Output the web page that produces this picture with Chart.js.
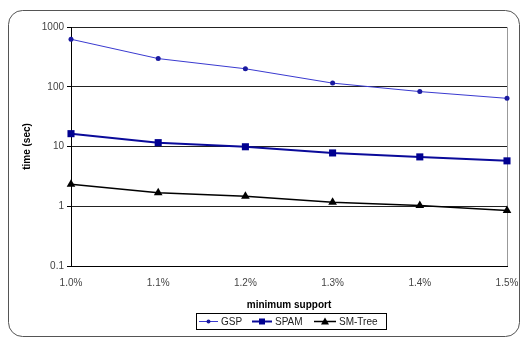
<!DOCTYPE html>
<html><head><meta charset="utf-8">
<script src="https://cdn.jsdelivr.net/npm/chart.js@4.4.1/dist/chart.umd.min.js"></script>
<style>html,body{margin:0;padding:0;background:#fff}#wrap{width:525px;height:341px}</style>
</head><body><div id="wrap"><canvas id="c" width="525" height="341"></canvas></div>
<script>
const categories = ['1.0%','1.1%','1.2%','1.3%','1.4%','1.5%'];
const gsp    = [624, 296, 200, 115, 83, 64];
const spam   = [16.4, 11.6, 9.9, 7.8, 6.7, 5.75];
const smTree = [2.33, 1.68, 1.47, 1.17, 1.03, 0.85];
const yTicks = [0.1, 1, 10, 100, 1000];
const seriesNames = ['GSP','SPAM','SM-Tree'];

const FONT = '"Liberation Sans", Arial, sans-serif';

const frame = {
  id:'frame',
  beforeDraw(chart){
    const c=chart.ctx; c.save();
    c.fillStyle='#fff'; c.fillRect(0,0,chart.width,chart.height);
    c.strokeStyle='#555'; c.lineWidth=1;
    c.beginPath(); c.roundRect(8.5,10.5,511,326,14); c.stroke();
    const a=chart.chartArea;
    c.strokeStyle='#999';
    c.beginPath(); c.moveTo(a.left,a.top+0.5); c.lineTo(a.right+0.5,a.top+0.5); c.lineTo(a.right+0.5,a.bottom); c.stroke();
    c.restore();
  },
  afterDraw(chart){
    const c=chart.ctx; c.save();
    c.strokeStyle='#000'; c.lineWidth=1;
    c.strokeRect(196.5,313.5,190,16);
    c.font='10px '+FONT;
    c.textBaseline='middle';
    const items=[[199,218,221],[252,272,275],[314,336,339]];
    chart.data.datasets.forEach((ds,i)=>{
      const [x0,x1,tx]=items[i]; const y=321.5;
      c.strokeStyle=ds.borderColor; c.lineWidth=ds.borderWidth;
      c.beginPath(); c.moveTo(x0,y); c.lineTo(x1,y); c.stroke();
      const mx=(x0+x1)/2; c.fillStyle=ds.backgroundColor;
      if(ds.pointStyle==='rect'){c.fillRect(mx-3,y-3,6,6);}
      else if(ds.pointStyle==='triangle'){c.beginPath();c.moveTo(mx,y-4);c.lineTo(mx+4,y+3);c.lineTo(mx-4,y+3);c.closePath();c.fill();}
      else {c.beginPath();c.arc(mx,y,2,0,Math.PI*2);c.fill();}
      c.fillStyle='#222'; c.fillText(ds.label,tx,y+0.5);
    });
    c.restore();
  }
};

new Chart(document.getElementById('c'),{
  type:'line',
  data:{labels:categories,datasets:[
    {label:seriesNames[0],data:gsp,borderColor:'#3a3ad0',backgroundColor:'#1a1aa0',borderWidth:1,pointStyle:'circle',pointRadius:2.5,pointBorderWidth:0,tension:0},
    {label:seriesNames[1],data:spam,borderColor:'#0a0a9a',backgroundColor:'#000090',borderWidth:2,pointStyle:'rect',pointRadius:5,pointBorderWidth:0,tension:0},
    {label:seriesNames[2],data:smTree,borderColor:'#000',backgroundColor:'#000',borderWidth:1.5,pointStyle:'triangle',pointRadius:5,pointBorderWidth:0,tension:0}
  ]},
  options:{
    responsive:false,animation:false,devicePixelRatio:1,
    layout:{padding:{top:27,right:18,bottom:30,left:0}},
    plugins:{legend:{display:false},tooltip:{enabled:false}},
    scales:{
      x:{offset:false,
        grid:{display:false,drawTicks:false},
        border:{color:'#000',width:1},
        ticks:{color:'#444',font:{family:FONT,size:10},padding:11,maxRotation:0},
        title:{display:true,text:'minimum support',color:'#000',font:{family:FONT,size:10,weight:'bold'},padding:{top:1,bottom:0}},
        afterFit(s){s.height=45;s.paddingLeft=0;s.paddingRight=0;}
      },
      y:{type:'logarithmic',min:0.1,max:1000,
        afterBuildTicks(s){s.ticks=yTicks.map(v=>({value:v}));},
        grid:{color:'#222',lineWidth:1,drawTicks:true,tickLength:4,tickColor:'#000'},
        border:{color:'#000',width:1},
        ticks:{color:'#444',font:{family:FONT,size:10},padding:3,callback:v=>String(v)},
        title:{display:true,text:'time (sec)',color:'#000',font:{family:FONT,size:10,weight:'bold'},padding:{top:21,bottom:0}},
        afterFit(s){s.width=71;s.paddingTop=0;s.paddingBottom=0;}
      }
    }
  },
  plugins:[frame]
});
</script></body></html>
